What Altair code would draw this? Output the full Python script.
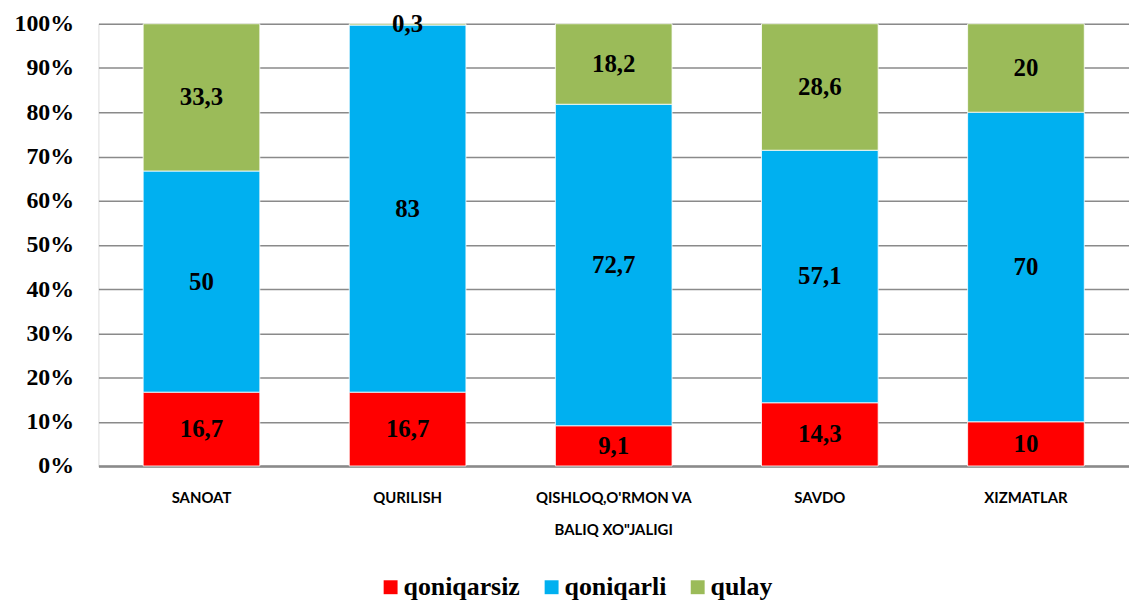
import altair as alt
import pandas as pd

categories = ["SANOAT", "QURILISH", "QISHLOQ,O'RMON VA|BALIQ XO\"JALIGI", "SAVDO", "XIZMATLAR"]
series = ["qoniqarsiz", "qoniqarli", "qulay"]
colors = ["#FF0000", "#00B0F0", "#9BBB59"]
qoniqarsiz = [16.7, 16.7, 9.1, 14.3, 10]
qoniqarli = [50, 83, 72.7, 57.1, 70]
qulay = [33.3, 0.3, 18.2, 28.6, 20]

rows = []
for i, c in enumerate(categories):
    for j, (s, vals) in enumerate(zip(series, [qoniqarsiz, qoniqarli, qulay])):
        v = vals[i]
        rows.append({"cat": c, "series": s, "order": j, "value": v,
                     "label": (f"{v:g}").replace(".", ",")})
df = pd.DataFrame(rows)

base = alt.Chart(df).transform_stack(
    stack="value", groupby=["cat"], as_=["y0", "y1"],
    sort=[alt.SortField("order", order="ascending")]
).transform_calculate(mid="(datum.y0 + datum.y1) / 2")

x_enc = alt.X("cat:N", sort=categories, title=None,
              scale=alt.Scale(paddingInner=0.434, paddingOuter=0.217),
              axis=alt.Axis(labelAngle=0, labelExpr="split(datum.label, '|')"))

bars = base.mark_bar(stroke="white", strokeWidth=0.8).encode(
    x=x_enc,
    y=alt.Y("y0:Q", title=None,
            scale=alt.Scale(domain=[0, 100], nice=False),
            axis=alt.Axis(values=list(range(0, 101, 10)), labelExpr="datum.value + '%'")),
    y2="y1:Q",
    color=alt.Color("series:N", scale=alt.Scale(domain=series, range=colors),
                    legend=alt.Legend(title=None, orient="none", direction="horizontal",
                                      legendX=281, legendY=554)),
    order=alt.Order("order:Q"),
)

texts = base.mark_text(font="Liberation Serif", fontSize=25, fontWeight="bold",
                       color="#000000", baseline="middle").encode(
    x=alt.X("cat:N", sort=categories),
    y=alt.Y("mid:Q"),
    text="label:N",
)

chart = alt.layer(bars, texts).properties(
    width=1037, height=445,
    padding={"left": 3, "right": 0, "top": 2, "bottom": 0},
).configure_view(stroke=None).configure(background="white"
).configure_axisX(
    labelFont="Lato", labelFontSize=15, labelFontWeight="bold",
    labelColor="#000000", labelPadding=25, labelLineHeight=32,
    ticks=False, domainColor="#8a8a8a", domainWidth=2.5, grid=False
).configure_axisY(
    labelFont="Liberation Serif", labelFontSize=24, labelFontWeight="bold",
    labelColor="#000000", labelPadding=25, ticks=False, domain=False,
    gridColor="#8a8a8a", gridWidth=1.5, minExtent=88, maxExtent=88
).configure_legend(
    symbolType="square", symbolSize=196, symbolStrokeWidth=0,
    labelFont="Liberation Serif", labelFontSize=26,
    labelFontWeight="bold", labelColor="#000000",
    labelOffset=0, columnPadding=18, padding=0
)

chart.save("out.html", embed_options={"renderer": "svg", "actions": False})
